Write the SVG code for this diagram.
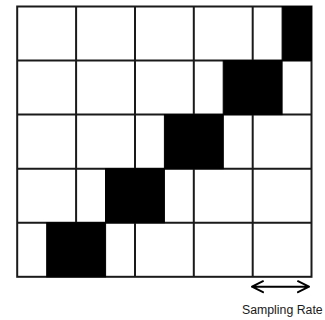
<svg xmlns="http://www.w3.org/2000/svg" width="325" height="320" viewBox="0 0 325 320">
<defs>
<style>
.grid{fill:none;stroke:#1a1a1a;stroke-width:2}
.blk{fill:#000;stroke:#000;stroke-width:1}
.arr{fill:none;stroke:#000;stroke-width:2;stroke-linecap:round;stroke-linejoin:round}
.lbl{font-family:"Liberation Sans",Arial,sans-serif;font-size:12.3px;fill:#1a1a1a}
</style>
</defs>
<rect width="325" height="320" fill="#fff"/>
<g id="grid" class="grid">
<rect x="17.2" y="6.5" width="294.3" height="270.3"/>
<path d="M76.1 6.5V276.8M135 6.5V276.8M193.8 6.5V276.8M252.7 6.5V276.8M17.2 60.6H311.5M17.2 114.6H311.5M17.2 168.7H311.5M17.2 222.7H311.5"/>
</g>
<g id="blocks" class="blk">
<rect id="b1" x="46.7" y="222.7" width="58.9" height="54.1"/>
<rect id="b2" x="105.5" y="168.7" width="58.9" height="54"/>
<rect id="b3" x="164.4" y="114.6" width="58.9" height="54.1"/>
<rect id="b4" x="223.2" y="60.6" width="58.9" height="54"/>
<rect id="b5" x="282.1" y="6.5" width="29.4" height="54.1"/>
</g>
<g id="connectors">
<path class="arr" d="M252 286.7H309M263 281.2L252 286.7L263 292.2M298 281.2L309 286.7L298 292.2"/>
</g>
<g id="label">
<text class="lbl" x="242" y="313.5">Sampling Rate</text>
</g>
</svg>
